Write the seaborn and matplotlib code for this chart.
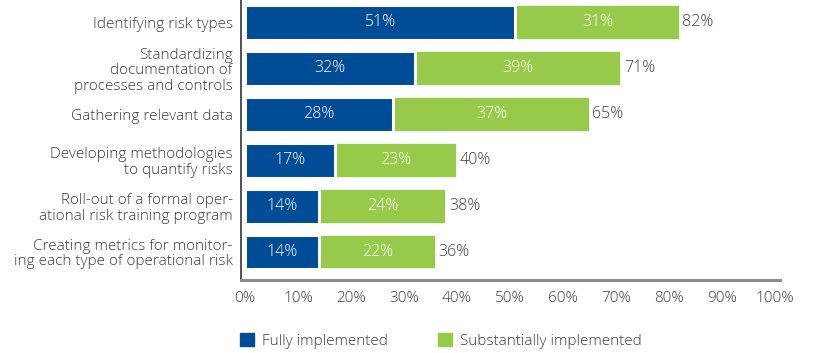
import matplotlib
matplotlib.use("Agg")
import matplotlib.pyplot as plt
import matplotlib.patches as mpatches
import seaborn as sns
import pandas as pd

categories = [
    "Identifying risk types",
    "Standardizing\ndocumentation of\nprocesses and controls",
    "Gathering relevant data",
    "Developing methodologies\nto quantify risks",
    "Roll-out of a formal oper-\national risk training program",
    "Creating metrics for monitor-\ning each type of operational risk",
]
fully = [51, 32, 28, 17, 14, 14]
substantially = [31, 39, 37, 23, 24, 22]
totals = [82, 71, 65, 40, 38, 36]
xticks = [0, 10, 20, 30, 40, 50, 60, 70, 80, 90, 100]
series_names = ["Fully implemented", "Substantially implemented"]

BLUE = "#004C97"
GREEN = "#97C94A"
TEXT = "#3c3c3c"

sns.set_theme(style="white")
plt.rcParams["font.family"] = ["Open Sans", "DejaVu Sans"]
plt.rcParams["font.weight"] = "light"

df = pd.DataFrame({
    "category": categories,
    "fully": fully,
    "substantially": substantially,
    "total": totals,
})

fig = plt.figure(figsize=(8.14, 3.53), dpi=100)
ax = fig.add_axes([241 / 814, 73 / 353, 539 / 814, 280 / 353])

# full-length green bar, blue share drawn on top of it
sns.barplot(data=df, y="category", x="total", color=GREEN, orient="h",
            saturation=1, width=0.76, edgecolor="white", linewidth=1.2, ax=ax)
sns.barplot(data=df, y="category", x="fully", color=BLUE, orient="h",
            saturation=1, width=0.76, edgecolor="white", linewidth=2.2, ax=ax)

FS = 11
for i, (f, s, t) in enumerate(zip(fully, substantially, totals)):
    ax.text(f / 2, i, f"{f}%", ha="center", va="center", color="white", fontsize=FS + 0.5)
    ax.text(f + s / 2, i, f"{s}%", ha="center", va="center", color="white", fontsize=FS + 0.5)
    ax.text(t + 0.5, i, f"{t}%", ha="left", va="center", color=TEXT, fontsize=FS + 0.5)

ax.set_xlim(-0.75, 100.9)
ax.set_ylim(5.61, -0.49)
ax.set_xticks(xticks)
ax.set_xticklabels([f"{v}%" for v in xticks], fontsize=FS, color=TEXT)
ax.set_yticks(range(len(categories)))
ax.set_yticklabels(categories, fontsize=FS, color=TEXT, linespacing=1.04)
ax.set_xlabel("")
ax.set_ylabel("")
ax.tick_params(axis="both", length=0)
ax.tick_params(axis="x", pad=8)
ax.tick_params(axis="y", pad=6)

for side in ["top", "right"]:
    ax.spines[side].set_visible(False)
ax.spines["left"].set_color("#333333")
ax.spines["left"].set_linewidth(1.2)
ax.spines["bottom"].set_color("#8c8c8c")
ax.spines["bottom"].set_linewidth(2.2)

handles = [mpatches.Patch(color=BLUE), mpatches.Patch(color=GREEN)]
fig.legend(handles, series_names, loc="center left",
           bbox_to_anchor=(240 / 814, 1 - 341 / 353), ncol=2, frameon=False,
           fontsize=FS, handlelength=0.92, handleheight=0.92, handletextpad=0.5,
           columnspacing=3.3, labelcolor=TEXT, borderaxespad=0, borderpad=0)

fig.savefig("out.png", dpi=100)
